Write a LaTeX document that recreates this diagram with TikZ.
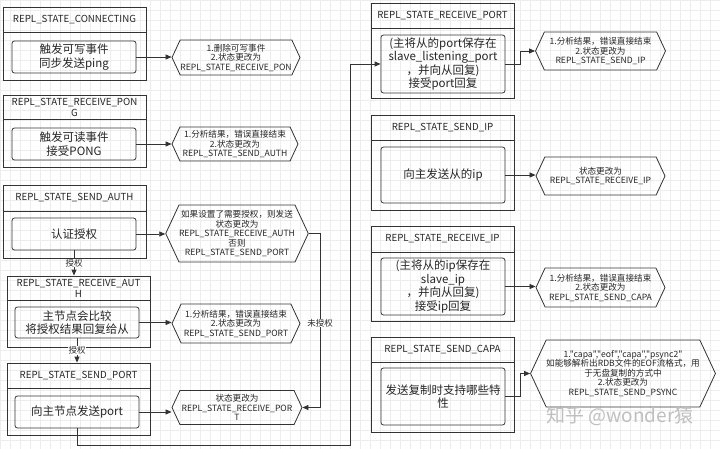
\documentclass[tikz,border=0pt]{standalone}
\usepackage{fontspec}
\setmainfont{Noto Sans CJK SC}[Ligatures=TeXOff]
\usetikzlibrary{arrows.meta,shapes.symbols}
\begin{document}
\begin{tikzpicture}[x=1pt,y=-1pt,
 title/.style={draw=black!80, line width=0.8pt, minimum width=143pt, inner sep=0pt, align=center, font=\fontsize{9.7}{11}\selectfont, text=black!85},
 body/.style={draw=black!80, line width=0.8pt, minimum width=143pt, inner sep=0pt},
 ibox/.style={draw=black!80, line width=0.8pt, rounded corners=2.5pt, minimum width=124pt, inner sep=0pt, align=center, font=\fontsize{11.5}{13.5}\selectfont, text=black!85},
 hex/.style={signal, signal to=west and east, signal pointer angle=130, draw=black!80, line width=0.8pt, inner sep=0pt, align=center, font=\fontsize{8.6}{9.5}\selectfont, text=black!85},
 arr/.style={draw=black!80, line width=0.8pt, -{Triangle[length=6pt,width=5pt]}},
 lab/.style={fill=white, inner sep=0.5pt, font=\fontsize{8.5}{9.5}\selectfont, text=black!85}
]
\useasboundingbox (0,0) rectangle (720,449);
\fill[white] (0,0) rectangle (720,449);
\foreach \gx in {0,10,...,720} \draw[black!7, line width=0.4pt] (\gx,0) -- (\gx,449);
\foreach \gy in {0,10,...,440} \draw[black!7, line width=0.4pt] (0,\gy) -- (720,\gy);

% left column
\node[title, minimum height=25pt] (t1) at (74.5,19.5) {REPL\_STATE\_CONNECTING};
\node[body, minimum height=48pt] (b1) at (74.5,56) {};
\node[ibox, minimum height=32pt] (i1) at (74,57) {触发可写事件\\同步发送ping};
\node[hex, minimum width=128pt, minimum height=35pt] (h1) at (236,57.5) {1.删除可写事件\\2.状态更改为\\REPL\_STATE\_RECEIVE\_PON};

\node[title, minimum height=24pt] (t2) at (74.5,107) {REPL\_STATE\_RECEIVE\_PON\\G};
\node[body, minimum height=48pt] (b2) at (74.5,143) {};
\node[ibox, minimum height=32pt] (i2) at (74,144) {触发可读事件\\接受PONG};
\node[hex, minimum width=126pt, minimum height=34pt] (h2) at (235,144) {1.分析结果，错误直接结束\\2.状态更改为\\REPL\_STATE\_SEND\_AUTH};

\node[title, minimum height=26pt] (t3) at (74.5,198) {REPL\_STATE\_SEND\_AUTH};
\node[body, minimum height=47pt] (b3) at (74.5,234.5) {};
\node[ibox, minimum height=32pt] (i3) at (74,234) {认证授权};
\node[hex, minimum width=130pt, minimum height=57pt] (h3) at (237,233.5) {如果设置了需要授权，则发送\\状态更改为\\REPL\_STATE\_RECEIVE\_AUTH\\否则\\REPL\_STATE\_SEND\_PORT};

\node[title, minimum height=24pt] (t4) at (78.5,288) {REPL\_STATE\_RECEIVE\_AUT\\H};
\node[body, minimum height=47pt] (b4) at (78.5,323.5) {};
\node[ibox, minimum height=31pt] (i4) at (77,322.5) {主节点会比较\\将授权结果回复给从};
\node[hex, minimum width=128pt, minimum height=39pt] (h4) at (236,323.5) {1.分析结果，错误直接结束\\2.状态更改为\\REPL\_STATE\_SEND\_PORT};

\node[title, minimum height=25pt] (t5) at (78.5,375.5) {REPL\_STATE\_SEND\_PORT};
\node[body, minimum height=47pt] (b5) at (78.5,411.5) {};
\node[ibox, minimum height=32pt] (i5) at (77,412) {向主节点发送port};
\node[hex, minimum width=130pt, minimum height=34pt] (h5) at (237,407.5) {状态更改为\\REPL\_STATE\_RECEIVE\_POR\\T};

% right column
\node[title, minimum height=25pt] (t6) at (442.5,15.5) {REPL\_STATE\_RECEIVE\_PORT};
\node[body, minimum height=70pt] (b6) at (442.5,63) {};
\node[ibox, minimum height=58pt] (i6) at (443,64) {(主将从的port保存在\\slave\_listening\_port\\，并向从回复)\\接受port回复};
\node[hex, minimum width=130pt, minimum height=38pt] (h6) at (600.5,51) {1.分析结果，错误直接结束\\2.状态更改为\\REPL\_STATE\_SEND\_IP};

\node[title, minimum height=25pt] (t7) at (442.5,127.5) {REPL\_STATE\_SEND\_IP};
\node[body, minimum height=70pt] (b7) at (442.5,175) {};
\node[ibox, minimum height=56pt] (i7) at (443,175) {向主发送从的ip};
\node[hex, minimum width=129pt, minimum height=38pt] (h7) at (600.5,176) {状态更改为\\REPL\_STATE\_RECEIVE\_IP};

\node[title, minimum height=26pt] (t8) at (442.5,239) {REPL\_STATE\_RECEIVE\_IP};
\node[body, minimum height=69pt] (b8) at (442.5,286.5) {};
\node[ibox, minimum height=57pt] (i8) at (443,286.5) {(主将从的ip保存在\\slave\_ip\\，并向从回复)\\接受ip回复};
\node[hex, minimum width=129pt, minimum height=39pt] (h8) at (600.5,287.5) {1.分析结果，错误直接结束\\2.状态更改为\\REPL\_STATE\_SEND\_CAPA};

\node[title, minimum height=25pt] (t9) at (442.5,349.5) {REPL\_STATE\_SEND\_CAPA};
\node[body, minimum height=70pt] (b9) at (442.5,397) {};
\node[ibox, minimum height=57pt] (i9) at (443,396.5) {发送复制时支持哪些特\\性};
\node[hex, minimum width=174pt, minimum height=67pt] (h9) at (623,373.5) {1."capa","eof","capa","psync2"\\如能够解析出RDB文件的EOF流格式，用\\于无盘复制的方式中\\2.状态更改为\\REPL\_STATE\_SEND\_PSYNC};

\node[text=black!25, font=\fontsize{19}{20}\selectfont] (wm) at (620,416) {知乎 @wonder猿};

% connectors
\foreach \k in {1,2,3,4,5,7,8} \draw[arr] (i\k.east) -- (h\k.west |- i\k.east);
\draw[arr] (i3.south) -- (i3.south |- t4.north) node[lab, midway] (l1) {授权};
\draw[arr] (i4.south) -- (i4.south |- t5.north) node[lab, midway] (l2) {授权};
\coordinate (u) at (320,0);
\draw[arr] (h3.east) -- (h3.east -| u) |- (h5.east);
\node[lab] (l3) at (320,323) {未授权};
\coordinate (lp) at (350,445);
\draw[arr] (i5.south) |- (lp) |- (i6.west);
\coordinate (k) at (520,0);
\draw[arr] (i6.east) -- (i6.east -| k) |- (h6.west);
\draw[arr] (i9.east) -- (i9.east -| k) |- (h9.west);
\end{tikzpicture}
\end{document}
